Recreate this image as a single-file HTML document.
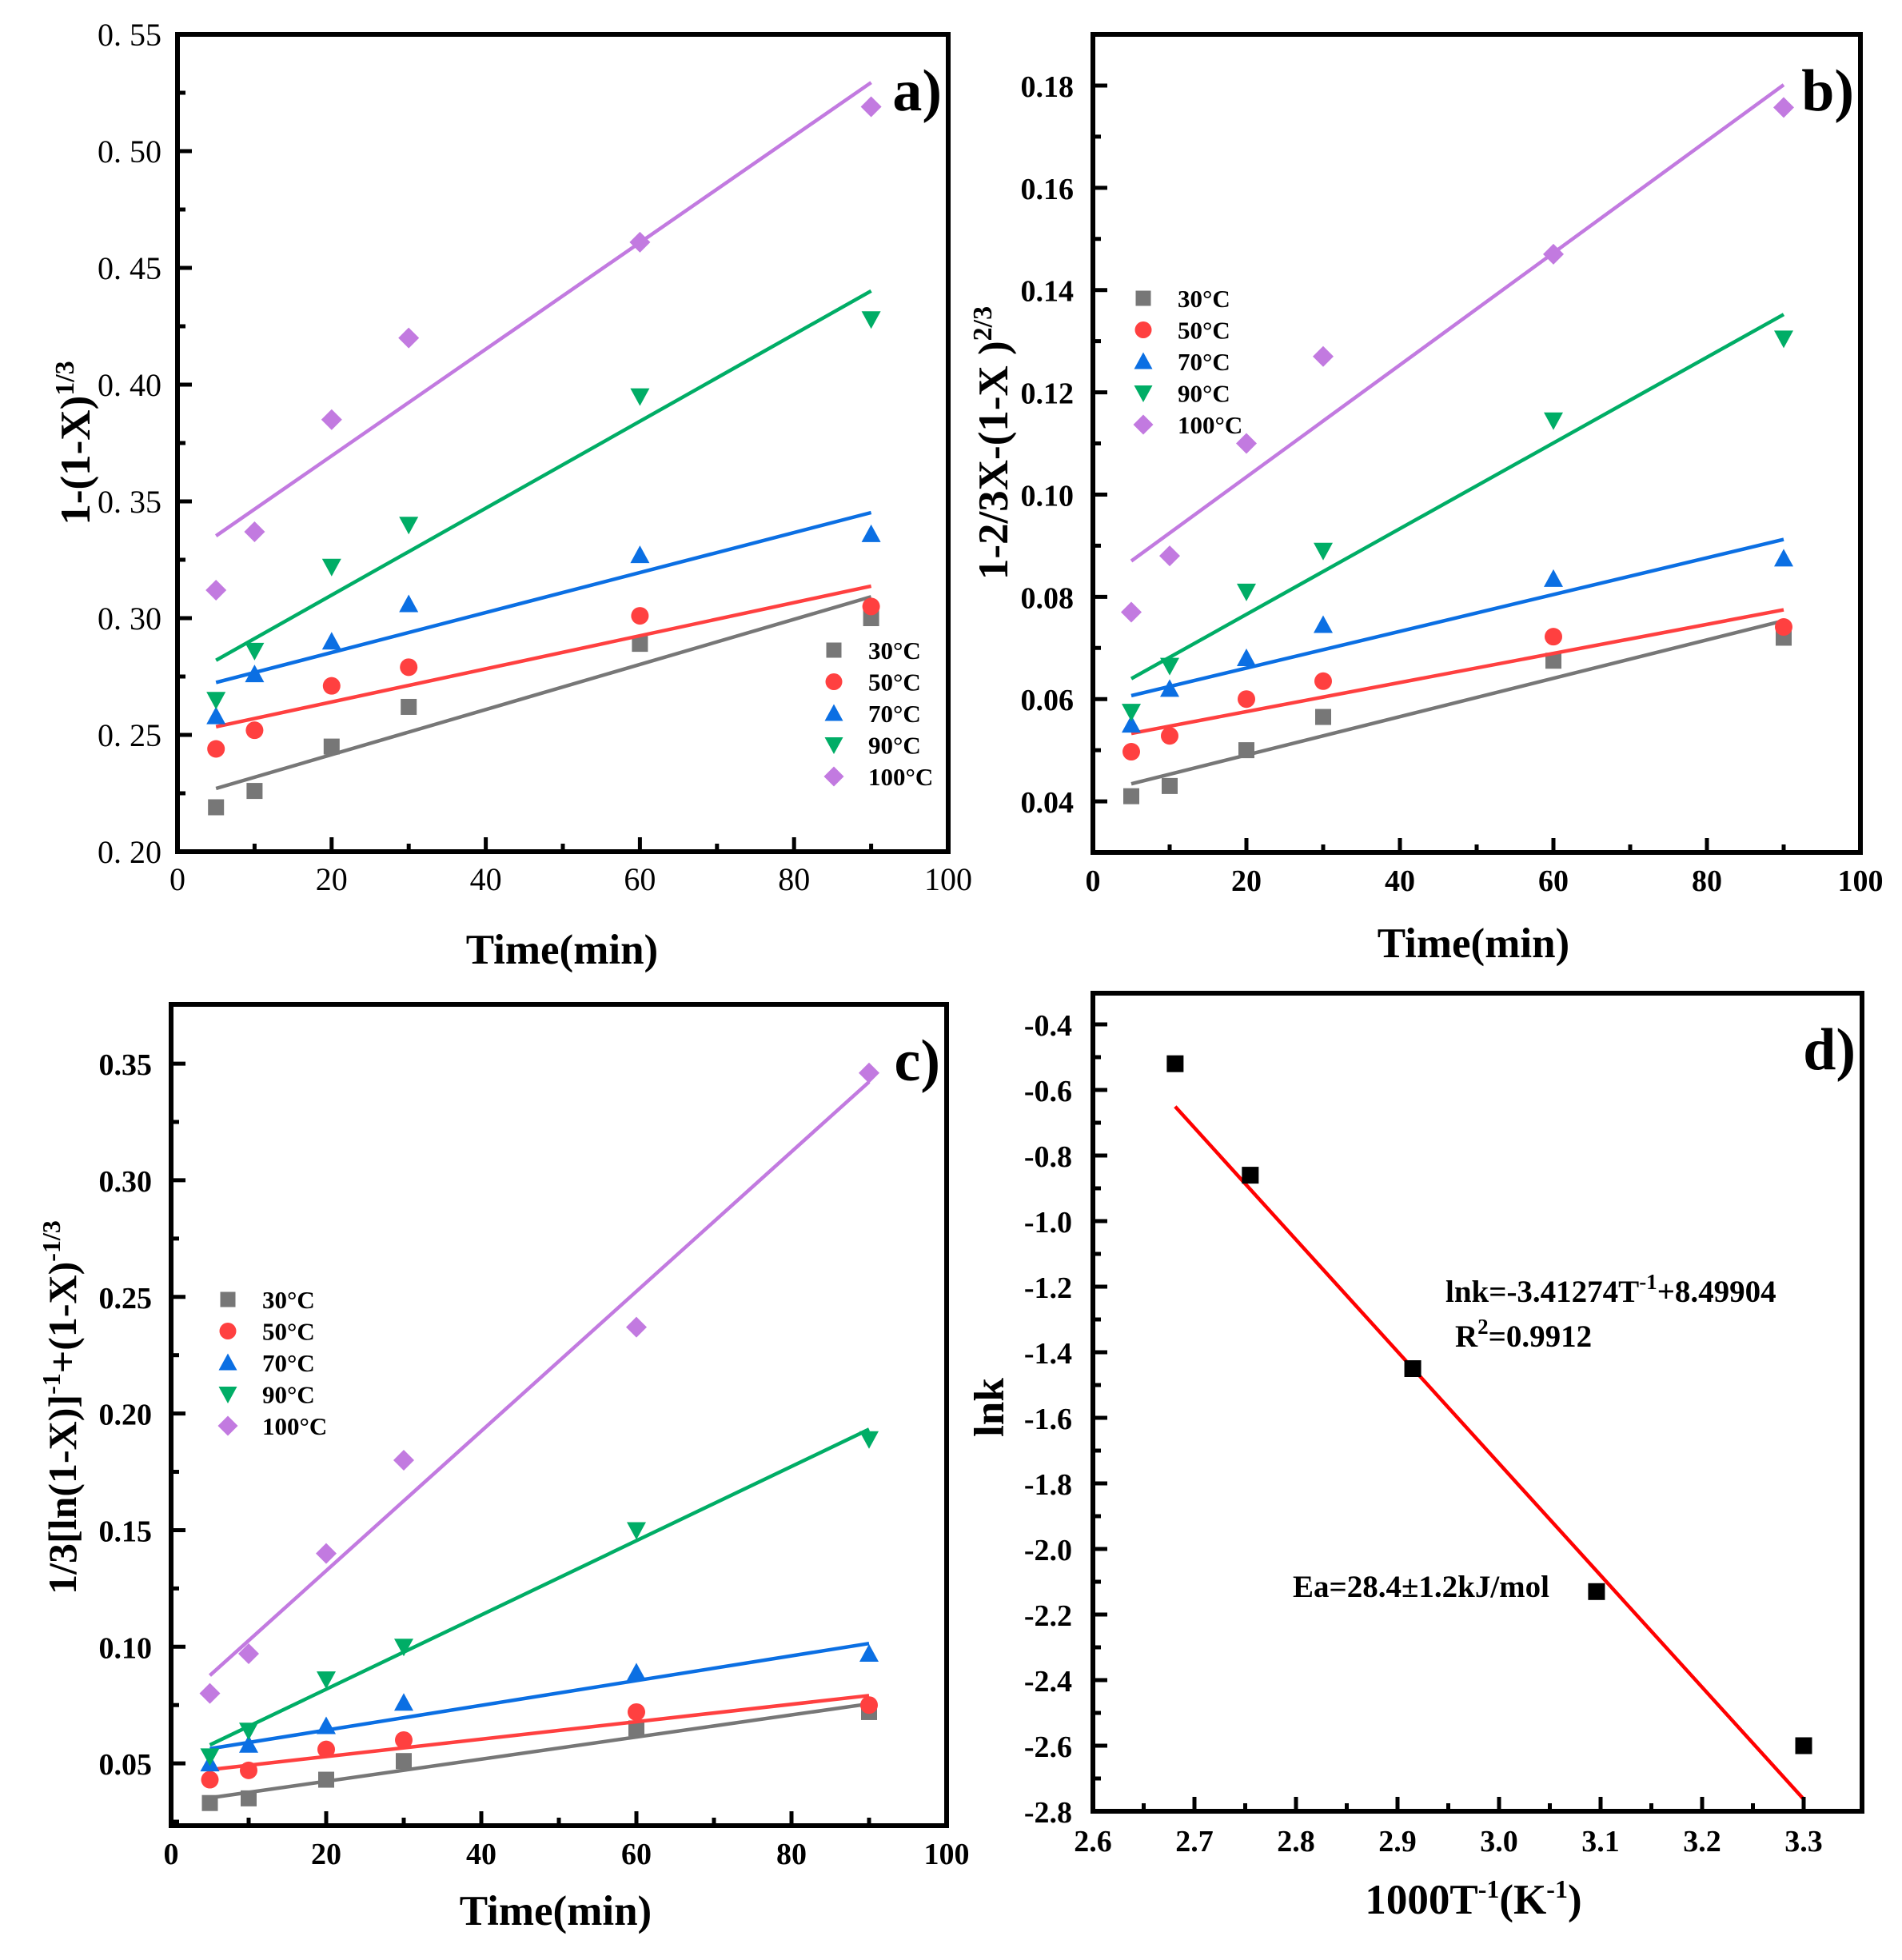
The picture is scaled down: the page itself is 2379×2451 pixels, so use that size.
<!DOCTYPE html>
<html><head><meta charset="utf-8"><style>
html,body{margin:0;padding:0;background:#fff}
svg text{font-family:"Liberation Serif","DejaVu Serif",serif}
</style></head><body>
<svg id="fig" xmlns="http://www.w3.org/2000/svg" width="2379" height="2446" viewBox="0 0 2379 2446" font-family="Liberation Serif, serif"></svg>
<script>
// ---- data ----
const times = [5, 10, 20, 30, 60, 90];
const tempLabels = ['30°C','50°C','70°C','90°C','100°C'];
const colors = ['#777777','#ff4040','#0b6fe3','#00ad66','#c27ae0'];
const shapes = ['square','circle','up','down','diamond'];
// panel a
const a30 = [0.219,0.226,0.245,0.262,0.289,0.300];
const a50 = [0.244,0.252,0.271,0.279,0.301,0.305];
const a70 = [0.258,0.276,0.290,0.306,0.327,0.336];
const a90 = [0.265,0.286,0.322,0.340,0.395,0.428];
const a100 = [0.312,0.337,0.385,0.420,0.461,0.519];
// panel b
const b30 = [0.041,0.043,0.050,0.0565,0.0675,0.072];
const b50 = [0.0497,0.0528,0.060,0.0635,0.0722,0.0741];
const b70 = [0.055,0.062,0.068,0.0745,0.0835,0.0875];
const b90 = [0.0575,0.0665,0.081,0.089,0.1145,0.1305];
const b100 = [0.077,0.088,0.110,0.127,0.147,0.1757];
// panel c
const c30 = [0.033,0.035,0.043,0.051,0.065,0.072];
const c50 = [0.043,0.047,0.056,0.060,0.072,0.075];
const c70 = [0.050,0.058,0.066,0.076,0.089,0.097];
const c90 = [0.053,0.064,0.086,0.100,0.150,0.189];
const c100 = [0.080,0.097,0.140,0.180,0.237,0.346];
// panel d
const dX = [2.681,2.755,2.915,3.096,3.300];
const dY = [-0.52,-0.86,-1.45,-2.13,-2.60];
const dSlope = -3.41274;
const dIntercept = 8.49904;
const timeTicks = [0,20,40,60,80,100];
const aTicks = ['0. 20','0. 25','0. 30','0. 35','0. 40','0. 45','0. 50','0. 55'];
const bTicks = ['0.04','0.06','0.08','0.10','0.12','0.14','0.16','0.18'];
const cTicks = ['0.05','0.10','0.15','0.20','0.25','0.30','0.35'];
const dYTicks = ['-2.8','-2.6','-2.4','-2.2','-2.0','-1.8','-1.6','-1.4','-1.2','-1.0','-0.8','-0.6','-0.4'];
const dXTicks = ['2.6','2.7','2.8','2.9','3.0','3.1','3.2','3.3'];

const NS='http://www.w3.org/2000/svg';
const svg=document.getElementById('fig');
function el(tag,attrs,parent){const e=document.createElementNS(NS,tag);for(const k in attrs)e.setAttribute(k,attrs[k]);if(tag==='text')e.setAttribute('font-family','Liberation Serif, serif');(parent||svg).appendChild(e);return e;}
function fit(xs,ys){const n=xs.length;let sx=0,sy=0,sxx=0,sxy=0;for(let i=0;i<n;i++){sx+=xs[i];sy+=ys[i];sxx+=xs[i]*xs[i];sxy+=xs[i]*ys[i];}const m=(n*sxy-sx*sy)/(n*sxx-sx*sx);return [m,(sy-m*sx)/n];}
function marker(g,shape,x,y,color,s){
  let e;
  if(shape==='square')e=el('rect',{x:x-s/2,y:y-s/2,width:s,height:s,fill:color},g);
  else if(shape==='circle')e=el('circle',{cx:x,cy:y,r:s/2+1,fill:color},g);
  else if(shape==='up')e=el('polygon',{points:`${x},${y-s/2-2} ${x-s/2-2},${y+s/2} ${x+s/2+2},${y+s/2}`,fill:color},g);
  else if(shape==='down')e=el('polygon',{points:`${x},${y+s/2+2} ${x-s/2-2},${y-s/2} ${x+s/2+2},${y-s/2}`,fill:color},g);
  else e=el('polygon',{points:`${x},${y-s/2-3} ${x+s/2+3},${y} ${x},${y+s/2+3} ${x-s/2-3},${y}`,fill:color},g);
  return e;
}

function panel(cfg){
  const g=el('g',{});
  
  
  const {L,T,R,B,x0,x1,y0,y1}=cfg;
  const sx=v=>L+(v-x0)/(x1-x0)*(R-L);
  const sy=v=>B-(v-y0)/(y1-y0)*(B-T);
  cfg.series.forEach((ys,i)=>{
    const sg=el('g',{},g);
    
    
    const [m,b]=fit(times,ys);
    const ln=el('line',{x1:sx(5),y1:sy(m*5+b),x2:sx(90),y2:sy(m*90+b),stroke:colors[i],'stroke-width':4.5},sg);
    
    
    ys.forEach((v,j)=>{const mk=marker(sg,shapes[i],sx(times[j]),sy(v),colors[i],20);
      
      });
  });
  drawAxes(g,cfg,sx,sy);
  const lg=el('g',{},g);
  
  
  tempLabels.forEach((t,i)=>{
    const y=cfg.legY+i*39.5;
    const mk=marker(lg,shapes[i],cfg.legX,y,colors[i],19);
    
    
    const tx=el('text',{x:cfg.legX+43,y:y+11,'font-size':31,'font-weight':'bold'},lg);
    tx.textContent=t;
    
    
  });
}

function drawAxes(g,cfg,sx,sy){
  const {L,T,R,B}=cfg;
  const f=el('rect',{x:L,y:T,width:R-L,height:B-T,fill:'none',stroke:'#000','stroke-width':6},g);
  
  
  const fw=cfg.tickBold?'bold':'normal';
  cfg.xt.forEach((lab,i)=>{
    const v=cfg.xtv[i];const x=sx(v);
    el('line',{x1:x,y1:B,x2:x,y2:B-18,stroke:'#000','stroke-width':5},g);
    if(i<cfg.xt.length-1){const xm=sx(v+cfg.xstep/2);el('line',{x1:xm,y1:B,x2:xm,y2:B-10,stroke:'#000','stroke-width':5},g);}
    const t=el('text',{x:x,y:B+cfg.xlabOff,'font-size':cfg.tickSize,'font-weight':fw,'text-anchor':'middle'},g);
    t.textContent=lab;
    
    
  });
  cfg.yt.forEach((lab,i)=>{
    const v=cfg.ytv[i];const y=sy(v);
    el('line',{x1:L,y1:y,x2:L+18,y2:y,stroke:'#000','stroke-width':5},g);
    const ym=sy(v+cfg.ystep/2); if(ym>cfg.T+4) el('line',{x1:L,y1:ym,x2:L+10,y2:ym,stroke:'#000','stroke-width':5},g);
    const ymb=sy(v-cfg.ystep/2); if(i===0&&ymb<cfg.B-4) el('line',{x1:L,y1:ymb,x2:L+10,y2:ymb,stroke:'#000','stroke-width':5},g);
    const t=el('text',{x:L-cfg.ylabOff,y:y+14,'font-size':cfg.tickSize,'font-weight':fw,'text-anchor':'end'},g);
    t.textContent=lab;
    
    
  });
  const xt=el('text',{x:cfg.xtx,y:cfg.xty,'font-size':53,'font-weight':'bold','text-anchor':'middle'},g);
  xt.innerHTML=cfg.xtitle;
  
  
  const yt=el('text',{x:0,y:0,'font-size':cfg.ytSize||53,'font-weight':'bold','text-anchor':'middle',transform:`translate(${cfg.ytx},${cfg.yty}) rotate(-90)`},g);
  yt.innerHTML=cfg.ytitle;
  
  
  const pl=el('text',{x:R-8,y:T+95,'font-size':74,'font-weight':'bold','text-anchor':'end'},g);
  pl.textContent=cfg.label;
  
  
}

panel({id:'a',name:'panel-a',label:'a)',L:222,T:43,R:1186,B:1065,x0:0,x1:100,y0:0.20,y1:0.55,
  series:[a30,a50,a70,a90,a100],xt:timeTicks.map(String),xtv:timeTicks,xstep:20,
  yt:aTicks,ytv:aTicks.map(s=>parseFloat(s.replace(' ',''))),ystep:0.05,tickSize:40,tickBold:false,xlabOff:48,ylabOff:20,
  xtx:703,xty:1205,xtitle:'Time(min)',ytx:112,yty:554,ytitle:'1-(1-X)<tspan dy="-20" font-size="34">1/3</tspan>',
  legX:1043,legY:813});
panel({id:'b',name:'panel-b',label:'b)',L:1367,T:43,R:2327,B:1066,x0:0,x1:100,y0:0.03,y1:0.19,
  series:[b30,b50,b70,b90,b100],xt:timeTicks.map(String),xtv:timeTicks,xstep:20,
  yt:bTicks,ytv:bTicks.map(parseFloat),ystep:0.02,tickSize:38,tickBold:true,xlabOff:48,ylabOff:24,
  xtx:1843,xty:1197,xtitle:'Time(min)',ytx:1260,yty:554,ytitle:'1-2/3X-(1-X )<tspan dy="-20" font-size="34">2/3</tspan>',
  legX:1430,legY:373});
panel({id:'c',name:'panel-c',label:'c)',L:214,T:1256,R:1184,B:2283,x0:0,x1:100,y0:0.0233,y1:0.3754,
  series:[c30,c50,c70,c90,c100],xt:timeTicks.map(String),xtv:timeTicks,xstep:20,
  yt:cTicks,ytv:cTicks.map(parseFloat),ystep:0.05,tickSize:38,tickBold:true,xlabOff:48,ylabOff:24,
  xtx:695,xty:2407,xtitle:'Time(min)',ytx:95,yty:1760,ytSize:50,ytitle:'1/3[ln(1-X)]<tspan dy="-20" font-size="32">-1</tspan><tspan dy="20">+(1-X)</tspan><tspan dy="-20" font-size="32">-1/3</tspan>',
  legX:285,legY:1625});

// panel d
(function(){
  const cfg={L:1367,T:1242,R:2329,B:2265,x0:2.6,x1:2.6+(2329-1367)/1270,y0:-2.8,y1:-2.8+(2265-1242)/410,
    xt:dXTicks,xtv:dXTicks.map(parseFloat),xstep:0.1,yt:dYTicks,ytv:dYTicks.map(parseFloat),ystep:0.2,
    tickSize:38,tickBold:true,xlabOff:50,ylabOff:26,xtx:1843,xty:2393,
    xtitle:'1000T<tspan dy="-20" font-size="32">-1</tspan><tspan dy="20">(K</tspan><tspan dy="-20" font-size="32">-1</tspan><tspan dy="20">)</tspan>',
    ytx:1255,yty:1760,ytitle:'lnk',label:'d)'};
  const g=el('g',{});
  
  
  const sx=v=>cfg.L+(v-cfg.x0)/(cfg.x1-cfg.x0)*(cfg.R-cfg.L);
  const sy=v=>cfg.B-(v-cfg.y0)/(cfg.y1-cfg.y0)*(cfg.B-cfg.T);
  const xa=dX[0],xb=dX[dX.length-1];
  const ln=el('line',{x1:sx(xa),y1:sy(dSlope*xa+dIntercept),x2:sx(xb),y2:sy(dSlope*xb+dIntercept),stroke:'#ff0000','stroke-width':4.5},g);
  
  
  dX.forEach((x,i)=>{const m=marker(g,'square',sx(x),sy(dY[i]),'#000',21);
    
    });
  drawAxes(g,cfg,sx,sy);
  const t1=el('text',{x:1808,y:1628,'font-size':39,'font-weight':'bold'},g);
  t1.innerHTML='lnk=-3.41274T<tspan dy="-16" font-size="27">-1</tspan><tspan dy="16">+8.49904</tspan>';
  
  
  const t2=el('text',{x:1820,y:1684,'font-size':39,'font-weight':'bold'},g);
  t2.innerHTML='R<tspan dy="-16" font-size="27">2</tspan><tspan dy="16">=0.9912</tspan>';
  
  
  const t3=el('text',{x:1617,y:1997,'font-size':39,'font-weight':'bold'},g);
  t3.textContent='Ea=28.4±1.2kJ/mol';
  
  
})();
</script>
</body></html>
